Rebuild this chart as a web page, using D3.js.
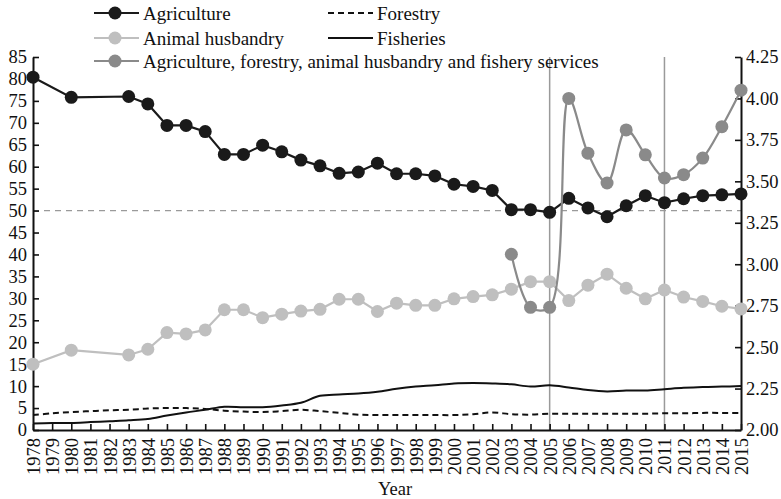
<!DOCTYPE html>
<html>
<head>
<meta charset="utf-8">
<script src="https://cdn.jsdelivr.net/npm/d3@7"></script>
<style>
  html, body { margin: 0; padding: 0; background: #fff; }
  svg { display: block; font-family: "Liberation Serif", "Times New Roman", serif; }
</style>
</head>
<body>
<svg id="chart" width="781" height="499"></svg>
<script>
// ---------- data ----------
const allYears = d3.range(1978, 2016);
const markerYears = [1978,1980,1983,1984,1985,1986,1987,1988,1989,1990,1991,1992,1993,1994,1995,1996,1997,1998,1999,2000,2001,2002,2003,2004,2005,2006,2007,2008,2009,2010,2011,2012,2013,2014,2015];
const agriculture = [80.4,75.8,76.0,74.3,69.4,69.4,68.0,62.8,62.8,64.9,63.4,61.5,60.2,58.5,58.8,60.8,58.4,58.4,57.9,56.0,55.5,54.6,50.2,50.2,49.6,52.8,50.6,48.6,51.1,53.4,51.8,52.7,53.4,53.6,53.8];
const animalHusbandry = [15.0,18.2,17.1,18.4,22.2,21.9,22.8,27.4,27.4,25.6,26.4,27.1,27.5,29.8,29.8,27.0,28.9,28.4,28.4,29.9,30.4,30.8,32.1,33.8,33.8,29.5,33.0,35.5,32.3,29.9,31.9,30.3,29.3,28.2,27.6];
const forestry = [3.4,3.8,4.1,4.3,4.5,4.6,4.9,5.0,5.0,4.8,4.4,4.2,4.1,4.3,4.6,4.3,3.9,3.5,3.4,3.4,3.4,3.4,3.4,3.6,4.0,3.6,3.5,3.7,3.7,3.7,3.7,3.7,3.7,3.8,3.8,3.9,3.9,3.9];
const fisheries = [1.5,1.6,1.6,1.8,2.0,2.2,2.5,3.3,4.0,4.6,5.3,5.2,5.2,5.6,6.2,7.8,8.1,8.3,8.7,9.4,9.9,10.2,10.6,10.7,10.6,10.4,9.9,10.2,9.7,9.1,8.8,9.0,9.0,9.3,9.6,9.8,9.9,10.0];
const serviceYears = [2003,2004,2005,2006,2007,2008,2009,2010,2011,2012,2013,2014,2015];
const services = [3.06,2.74,2.74,4.00,3.67,3.49,3.81,3.66,3.52,3.54,3.64,3.83,4.05];
const leftTicks = d3.range(0, 86, 5);
const rightTicks = [2.00,2.25,2.50,2.75,3.00,3.25,3.50,3.75,4.00,4.25];
const markedYears = [2005, 2011];
const refValue = 50;

// ---------- layout ----------
const svg = d3.select("#chart");
const x = d3.scaleLinear().domain([1978, 2015]).range([33, 741]);
const yL = d3.scaleLinear().domain([0, 85]).range([430, 57]);
const yR = d3.scaleLinear().domain([2, 4.25]).range([430, 57]);
const FS = 18.5;
const LFS = 19;

// reference lines
svg.selectAll(".vline").data(markedYears).enter().append("line")
  .attr("x1", d => x(d)).attr("x2", d => x(d))
  .attr("y1", yL(85)).attr("y2", yL(0))
  .attr("stroke", "#9a9a9a").attr("stroke-width", 1.5);
svg.append("line")
  .attr("x1", x(1978)).attr("x2", x(2015))
  .attr("y1", yL(refValue)).attr("y2", yL(refValue))
  .attr("stroke", "#9a9a9a").attr("stroke-width", 1.2)
  .attr("stroke-dasharray", "6,5");

// axes
const gx = svg.append("g").attr("transform", `translate(0,${yL(0)})`)
  .call(d3.axisBottom(x).tickValues(allYears).tickSize(-6).tickSizeOuter(0).tickFormat(d => d));
gx.selectAll("text")
  .attr("transform", "rotate(-90)")
  .attr("text-anchor", "end")
  .attr("x", -8).attr("y", 0).attr("dy", "0.35em");
const gl = svg.append("g").attr("transform", `translate(${x(1978)},0)`)
  .call(d3.axisLeft(yL).tickValues(leftTicks).tickSize(-6).tickSizeOuter(0).tickPadding(6));
const gr = svg.append("g").attr("transform", `translate(${x(2015)},0)`)
  .call(d3.axisRight(yR).tickValues(rightTicks).tickSize(-6).tickSizeOuter(0).tickPadding(5).tickFormat(d3.format(".2f")));
[gx, gl, gr].forEach(g => {
  g.selectAll("text").attr("font-size", FS).attr("fill", "#111").attr("font-family", "Liberation Serif");
  g.selectAll("line").attr("stroke", "#111").attr("stroke-width", 1.6);
  g.select(".domain").attr("stroke", "#111").attr("stroke-width", 2);
});
svg.append("text").attr("x", 395).attr("y", 495).attr("text-anchor", "middle")
  .attr("font-size", FS).attr("fill", "#111").text("Year");

// smooth lines
const smooth = d3.line().x(d => x(d[0])).y(d => yL(d[1])).curve(d3.curveCatmullRom);
svg.append("path").datum(allYears.map((y, i) => [y, forestry[i]]))
  .attr("d", smooth).attr("fill", "none").attr("stroke", "#111")
  .attr("stroke-width", 2).attr("stroke-dasharray", "6,4");
svg.append("path").datum(allYears.map((y, i) => [y, fisheries[i]]))
  .attr("d", smooth).attr("fill", "none").attr("stroke", "#111").attr("stroke-width", 2);

// marker series
function markerSeries(years, vals, yScale, color, curve) {
  const pts = years.map((y, i) => [y, vals[i]]);
  const line = d3.line().x(d => x(d[0])).y(d => yScale(d[1])).curve(curve);
  svg.append("path").datum(pts).attr("d", line).attr("fill", "none")
    .attr("stroke", color).attr("stroke-width", 2.2);
  svg.append("g").selectAll("circle").data(pts).enter().append("circle")
    .attr("cx", d => x(d[0])).attr("cy", d => yScale(d[1])).attr("r", 6.5)
    .attr("fill", color);
}
markerSeries(markerYears, animalHusbandry, yL, "#bfbfbf", d3.curveLinear);
markerSeries(markerYears, agriculture, yL, "#1a1a1a", d3.curveLinear);
markerSeries(serviceYears, services, yR, "#8a8a8a", d3.curveCatmullRom);

// legend
const legend = [
  {label: "Agriculture", x: 94, y: 13, color: "#1a1a1a", dot: true, dash: null},
  {label: "Animal husbandry", x: 94, y: 38, color: "#bfbfbf", dot: true, dash: null},
  {label: "Agriculture, forestry, animal husbandry and fishery services", x: 94, y: 61, color: "#8a8a8a", dot: true, dash: null},
  {label: "Forestry", x: 328, y: 13, color: "#111", dot: false, dash: "6,4"},
  {label: "Fisheries", x: 328, y: 38, color: "#111", dot: false, dash: null}
];
const lg = svg.append("g").selectAll("g").data(legend).enter().append("g")
  .attr("transform", d => `translate(${d.x},${d.y})`);
lg.append("line").attr("x1", 0).attr("x2", 45).attr("y1", 0).attr("y2", 0)
  .attr("stroke", d => d.color).attr("stroke-width", 2.2)
  .attr("stroke-dasharray", d => d.dash);
lg.filter(d => d.dot).append("circle").attr("cx", 21).attr("cy", 0).attr("r", 6.5)
  .attr("fill", d => d.color);
lg.append("text").attr("x", 49).attr("y", 0).attr("dy", "0.35em")
  .attr("font-size", LFS).attr("fill", "#111").text(d => d.label);
</script>
</body>
</html>
